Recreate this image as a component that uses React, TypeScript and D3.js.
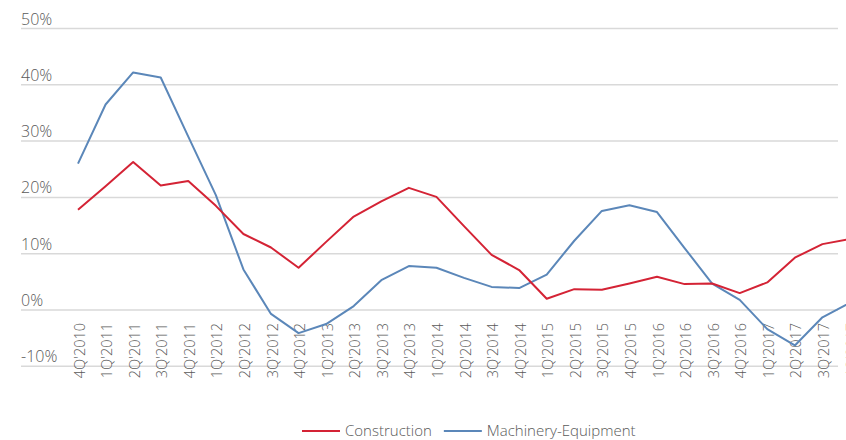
import * as d3 from "d3";
import { useEffect, useRef } from "react";

const quarters = [
  "4Q'2010",
  "1Q'2011", "2Q'2011", "3Q'2011", "4Q'2011",
  "1Q'2012", "2Q'2012", "3Q'2012", "4Q'2012",
  "1Q'2013", "2Q'2013", "3Q'2013", "4Q'2013",
  "1Q'2014", "2Q'2014", "3Q'2014", "4Q'2014",
  "1Q'2015", "2Q'2015", "3Q'2015", "4Q'2015",
  "1Q'2016", "2Q'2016", "3Q'2016", "4Q'2016",
  "1Q'2017", "2Q'2017", "3Q'2017", "4Q'2017",
];

const construction = [
  17.8,
  22.0, 26.3, 22.1, 22.9,
  18.5, 13.5, 11.1, 7.5,
  12.1, 16.6, 19.3, 21.7,
  20.1, 14.9, 9.8, 7.1,
  2.0, 3.7, 3.6, 4.7,
  5.9, 4.6, 4.7, 3.0,
  4.9, 9.3, 11.7, 12.6,
];

const machinery = [
  26.0,
  36.5, 42.2, 41.3, 30.8,
  20.4, 7.2, -0.7, -4.1,
  -2.5, 0.7, 5.3, 7.8,
  7.5, 5.7, 4.1, 3.9,
  6.3, 12.3, 17.6, 18.6,
  17.4, 11.0, 4.7, 1.8,
  -3.4, -6.3, -1.3, 1.3,
];

const yTicks = [-10, 0, 10, 20, 30, 40, 50];

const seriesInfo = [
  { name: "Construction", values: construction, color: "#d42335" },
  { name: "Machinery-Equipment", values: machinery, color: "#5b87b9" },
];

const W = 846;
const H = 440;
const font = "'Open Sans', 'DejaVu Sans', sans-serif";

const App = () => {
  const ref = useRef<SVGSVGElement>(null);

  useEffect(() => {
    document.body.style.margin = "0";
    const svg = d3.select(ref.current);
    svg.selectAll("*").remove();

    const x = d3.scalePoint<string>().domain(quarters).range([78, 850]);
    const y = d3.scaleLinear().domain([-10, 50]).range([366.3, 28.5]);

    // gridlines + y labels
    const grid = svg.append("g");
    grid.selectAll("line")
      .data(yTicks)
      .enter()
      .append("line")
      .attr("x1", 21)
      .attr("x2", 838)
      .attr("y1", d => y(d))
      .attr("y2", d => y(d))
      .attr("stroke", "#d9d9d9")
      .attr("stroke-width", 1.5);

    grid.selectAll("text")
      .data(yTicks)
      .enter()
      .append("text")
      .attr("x", 21)
      .attr("y", d => y(d) - 4)
      .attr("fill", "#595959")
      .style("font-family", font)
      .style("font-weight", 300)
      .style("font-size", "16px")
      .text(d => `${d}%`);

    // x labels, rotated
    svg.append("g")
      .selectAll("text")
      .data(quarters)
      .enter()
      .append("text")
      .attr("transform", d => `translate(${(x(d) ?? 0) + 1}, 323) rotate(-90)`)
      .attr("text-anchor", "end")
      .attr("dominant-baseline", "central")
      .attr("fill", "#595959")
      .style("font-family", font)
      .style("font-weight", 300)
      .style("font-size", "14.5px")
      .text(d => d);

    const line = d3.line<number>()
      .x((_, i) => x(quarters[i]) ?? 0)
      .y(d => y(d));

    seriesInfo.slice().reverse().forEach(s => {
      svg.append("path")
        .datum(s.values)
        .attr("d", line)
        .attr("fill", "none")
        .attr("stroke", s.color)
        .attr("stroke-width", 2)
        .attr("stroke-linejoin", "round");
    });

    // legend
    const legend = svg.append("g").attr("transform", "translate(302, 431)");
    let offset = 0;
    seriesInfo.forEach(s => {
      const g = legend.append("g").attr("transform", `translate(${offset}, 0)`);
      g.append("line")
        .attr("x1", 0)
        .attr("x2", 38)
        .attr("stroke", s.color)
        .attr("stroke-width", 2);
      const t = g.append("text")
        .attr("x", 43)
        .attr("y", 5)
        .attr("fill", "#595959")
        .style("font-family", font)
        .style("font-weight", 300)
        .style("font-size", "15px")
        .text(s.name);
      const tw = (t.node() as SVGTextElement).getComputedTextLength();
      offset += 43 + tw + 12;
    });
  }, []);

  return (
    <svg
      ref={ref}
      width={W}
      height={H}
      style={{ display: "block", background: "#fff" }}
    ></svg>
  );
};

export default App;
